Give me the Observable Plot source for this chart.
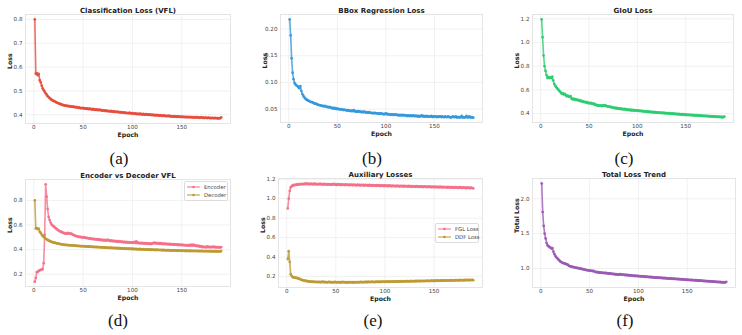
<!DOCTYPE html>
<html>
<head>
<meta charset="utf-8">
<script src="https://cdn.jsdelivr.net/npm/d3@7"></script>
<script src="https://cdn.jsdelivr.net/npm/@observablehq/plot@0.6"></script>
<style>
  html, body { margin: 0; padding: 0; background: #fff; }
  #fig { position: relative; width: 742px; height: 335px; overflow: hidden; font-family: "DejaVu Sans", sans-serif; }
  .panel { position: absolute; }
  .cap { position: absolute; font-family: "Liberation Serif", "DejaVu Serif", serif; font-size: 17px; color: #111; transform: translate(-50%, -50%); white-space: nowrap; line-height: 1; }
  .legend { position: absolute; box-sizing: border-box; border: 0.7px solid #dcdcdc; border-radius: 2px; background: rgba(255,255,255,0.85); font-size: 5.3px; color: #444; padding: 1px 3px 1px 2px; }
  .legend .row { display: flex; align-items: center; height: 8px; white-space: nowrap; }
  .legend svg { width: 13px; height: 6px; margin-right: 4px; flex: none; }
</style>
</head>
<body>
<div id="fig"></div>
<script>
// Training losses per epoch (epochs 1..190)
const epochs = d3.range(1, 191);

const clsLoss = [
  0.800,0.572,0.575,0.566,0.571,0.545,0.536,0.522,0.511,0.503,
  0.497,0.490,0.484,0.478,0.474,0.470,0.466,0.463,0.460,0.458,
  0.456,0.454,0.451,0.450,0.448,0.446,0.445,0.443,0.441,0.440,
  0.439,0.438,0.438,0.436,0.437,0.435,0.436,0.434,0.433,0.435,
  0.432,0.431,0.433,0.430,0.429,0.431,0.428,0.428,0.427,0.429,
  0.426,0.427,0.425,0.427,0.424,0.424,0.426,0.423,0.422,0.424,
  0.421,0.422,0.420,0.422,0.419,0.420,0.421,0.418,0.419,0.417,
  0.418,0.416,0.418,0.415,0.416,0.415,0.414,0.416,0.413,0.414,
  0.412,0.414,0.412,0.411,0.413,0.410,0.411,0.409,0.411,0.409,
  0.408,0.410,0.407,0.408,0.407,0.406,0.409,0.406,0.405,0.407,
  0.405,0.404,0.406,0.403,0.404,0.403,0.402,0.405,0.402,0.401,
  0.403,0.401,0.400,0.402,0.400,0.401,0.399,0.401,0.399,0.398,
  0.400,0.398,0.397,0.399,0.397,0.398,0.396,0.398,0.396,0.395,
  0.397,0.395,0.396,0.394,0.395,0.394,0.396,0.393,0.394,0.393,
  0.392,0.394,0.392,0.393,0.391,0.393,0.392,0.391,0.392,0.390,
  0.392,0.390,0.391,0.389,0.391,0.390,0.389,0.391,0.389,0.390,
  0.388,0.390,0.389,0.388,0.390,0.388,0.389,0.387,0.388,0.389,
  0.387,0.388,0.386,0.388,0.387,0.386,0.388,0.386,0.387,0.385,
  0.387,0.386,0.385,0.387,0.385,0.386,0.384,0.386,0.385,0.389
];

const bboxLoss = [
  0.218,0.188,0.145,0.118,0.106,0.099,0.096,0.094,0.093,0.091,
  0.089,0.093,0.084,0.078,0.075,0.072,0.070,0.068,0.067,0.066,
  0.065,0.064,0.063,0.063,0.062,0.061,0.060,0.060,0.059,0.058,
  0.058,0.057,0.057,0.056,0.056,0.055,0.056,0.055,0.054,0.054,
  0.053,0.054,0.053,0.052,0.052,0.051,0.052,0.051,0.050,0.051,
  0.050,0.050,0.049,0.050,0.049,0.048,0.049,0.048,0.048,0.047,
  0.048,0.047,0.047,0.046,0.047,0.046,0.048,0.046,0.045,0.046,
  0.045,0.046,0.045,0.045,0.044,0.045,0.044,0.045,0.044,0.043,
  0.044,0.043,0.044,0.043,0.043,0.042,0.043,0.042,0.043,0.042,
  0.042,0.041,0.042,0.041,0.042,0.041,0.041,0.040,0.041,0.042,
  0.040,0.041,0.040,0.040,0.039,0.040,0.039,0.040,0.039,0.040,
  0.039,0.039,0.038,0.039,0.038,0.039,0.038,0.039,0.038,0.038,
  0.038,0.037,0.038,0.037,0.038,0.037,0.037,0.038,0.037,0.037,
  0.037,0.037,0.036,0.037,0.036,0.037,0.038,0.036,0.037,0.036,
  0.036,0.037,0.036,0.036,0.036,0.036,0.037,0.035,0.036,0.036,
  0.036,0.035,0.036,0.035,0.036,0.036,0.035,0.036,0.035,0.035,
  0.036,0.035,0.035,0.036,0.035,0.035,0.034,0.035,0.036,0.035,
  0.035,0.036,0.034,0.035,0.035,0.034,0.035,0.037,0.034,0.035,
  0.034,0.035,0.037,0.034,0.035,0.036,0.034,0.035,0.034,0.034
];

const giouLoss = [
  1.195,1.045,0.890,0.800,0.760,0.725,0.700,0.710,0.700,0.705,
  0.700,0.712,0.680,0.650,0.635,0.625,0.614,0.606,0.594,0.586,
  0.575,0.566,0.571,0.560,0.565,0.556,0.546,0.551,0.544,0.541,
  0.546,0.525,0.521,0.526,0.516,0.521,0.514,0.518,0.510,0.513,
  0.505,0.509,0.500,0.503,0.496,0.499,0.492,0.496,0.488,0.491,
  0.486,0.490,0.482,0.485,0.478,0.481,0.471,0.473,0.466,0.469,
  0.465,0.468,0.463,0.466,0.470,0.465,0.468,0.463,0.460,0.458,
  0.457,0.459,0.452,0.455,0.450,0.446,0.449,0.442,0.447,0.441,
  0.444,0.438,0.443,0.436,0.440,0.434,0.439,0.433,0.436,0.430,
  0.434,0.428,0.433,0.426,0.431,0.424,0.429,0.425,0.427,0.423,
  0.426,0.421,0.425,0.419,0.422,0.418,0.421,0.416,0.419,0.414,
  0.418,0.413,0.416,0.411,0.415,0.410,0.413,0.409,0.412,0.407,
  0.410,0.406,0.409,0.404,0.408,0.403,0.407,0.402,0.405,0.401,
  0.404,0.400,0.403,0.398,0.402,0.397,0.401,0.396,0.399,0.394,
  0.398,0.393,0.397,0.392,0.395,0.390,0.394,0.389,0.393,0.388,
  0.391,0.387,0.390,0.386,0.389,0.385,0.388,0.384,0.387,0.383,
  0.386,0.382,0.385,0.381,0.384,0.380,0.383,0.379,0.382,0.378,
  0.381,0.377,0.380,0.376,0.379,0.375,0.378,0.374,0.377,0.373,
  0.376,0.372,0.375,0.371,0.374,0.370,0.373,0.366,0.372,0.374
];

const encoderVfl = [
  0.140,0.170,0.218,0.220,0.228,0.232,0.235,0.238,0.242,0.290,
  0.520,0.930,0.830,0.730,0.665,0.640,0.620,0.605,0.595,0.590,
  0.582,0.575,0.568,0.562,0.556,0.551,0.547,0.543,0.540,0.536,
  0.533,0.530,0.528,0.535,0.530,0.532,0.528,0.530,0.524,0.520,
  0.516,0.512,0.510,0.508,0.504,0.502,0.505,0.500,0.498,0.502,
  0.497,0.499,0.494,0.496,0.492,0.490,0.493,0.488,0.486,0.489,
  0.484,0.486,0.482,0.485,0.480,0.483,0.478,0.481,0.476,0.479,
  0.474,0.478,0.473,0.476,0.480,0.474,0.471,0.475,0.469,0.472,
  0.467,0.471,0.466,0.469,0.464,0.468,0.463,0.466,0.461,0.465,
  0.460,0.463,0.458,0.462,0.457,0.460,0.456,0.459,0.455,0.458,
  0.456,0.462,0.454,0.466,0.452,0.457,0.451,0.455,0.450,0.454,
  0.449,0.453,0.448,0.452,0.447,0.451,0.446,0.450,0.445,0.449,
  0.452,0.456,0.450,0.455,0.449,0.453,0.447,0.452,0.446,0.450,
  0.445,0.449,0.444,0.448,0.443,0.447,0.442,0.446,0.441,0.445,
  0.440,0.444,0.439,0.443,0.438,0.442,0.437,0.441,0.436,0.440,
  0.435,0.439,0.434,0.437,0.433,0.436,0.432,0.438,0.431,0.440,
  0.432,0.440,0.433,0.435,0.429,0.432,0.426,0.430,0.423,0.427,
  0.420,0.424,0.419,0.423,0.418,0.427,0.420,0.423,0.418,0.422,
  0.420,0.425,0.419,0.423,0.418,0.421,0.417,0.420,0.418,0.421
];

// The decoder VFL is the classification loss shown in the first panel
const decoderVfl = clsLoss;

const fglLoss = [
  0.900,1.000,1.080,1.115,1.128,1.135,1.140,1.137,1.145,1.141,
  1.148,1.143,1.150,1.146,1.152,1.147,1.150,1.155,1.148,1.156,
  1.150,1.153,1.147,1.155,1.149,1.152,1.146,1.154,1.148,1.151,
  1.145,1.150,1.147,1.153,1.146,1.149,1.144,1.151,1.146,1.148,
  1.143,1.150,1.145,1.147,1.142,1.149,1.144,1.152,1.143,1.146,
  1.141,1.148,1.143,1.146,1.140,1.147,1.142,1.145,1.139,1.146,
  1.141,1.144,1.138,1.145,1.140,1.143,1.137,1.144,1.139,1.142,
  1.136,1.143,1.138,1.141,1.135,1.142,1.137,1.140,1.134,1.141,
  1.136,1.139,1.133,1.140,1.135,1.138,1.132,1.139,1.134,1.137,
  1.131,1.138,1.133,1.136,1.130,1.137,1.132,1.135,1.129,1.136,
  1.131,1.134,1.128,1.135,1.130,1.133,1.127,1.134,1.129,1.132,
  1.126,1.133,1.128,1.131,1.125,1.132,1.127,1.130,1.124,1.131,
  1.126,1.129,1.123,1.130,1.125,1.128,1.122,1.129,1.124,1.127,
  1.121,1.128,1.123,1.126,1.120,1.127,1.122,1.125,1.119,1.126,
  1.121,1.124,1.118,1.125,1.120,1.123,1.117,1.124,1.119,1.122,
  1.116,1.123,1.118,1.121,1.115,1.122,1.117,1.120,1.114,1.121,
  1.116,1.119,1.113,1.120,1.115,1.118,1.112,1.119,1.114,1.117,
  1.111,1.118,1.113,1.116,1.110,1.117,1.112,1.115,1.109,1.116,
  1.111,1.114,1.108,1.115,1.110,1.113,1.107,1.114,1.109,1.106
];

const ddfLoss = [
  0.380,0.460,0.350,0.225,0.205,0.196,0.192,0.190,0.188,0.186,
  0.183,0.180,0.176,0.171,0.167,0.163,0.160,0.158,0.156,0.155,
  0.153,0.151,0.150,0.148,0.149,0.146,0.147,0.145,0.146,0.144,
  0.145,0.143,0.146,0.142,0.144,0.147,0.143,0.145,0.142,0.144,
  0.141,0.143,0.146,0.142,0.144,0.140,0.143,0.141,0.145,0.142,
  0.140,0.144,0.141,0.143,0.139,0.142,0.145,0.141,0.143,0.140,
  0.142,0.139,0.143,0.141,0.144,0.140,0.142,0.139,0.143,0.141,
  0.144,0.140,0.143,0.141,0.145,0.142,0.144,0.141,0.146,0.143,
  0.145,0.142,0.147,0.143,0.146,0.144,0.148,0.144,0.146,0.143,
  0.147,0.145,0.148,0.144,0.147,0.145,0.149,0.146,0.148,0.145,
  0.149,0.146,0.150,0.147,0.149,0.146,0.151,0.148,0.150,0.147,
  0.151,0.149,0.152,0.148,0.151,0.149,0.153,0.150,0.152,0.149,
  0.153,0.150,0.154,0.151,0.153,0.150,0.155,0.152,0.154,0.151,
  0.155,0.152,0.156,0.153,0.155,0.152,0.157,0.154,0.156,0.153,
  0.157,0.154,0.158,0.155,0.157,0.154,0.159,0.156,0.158,0.155,
  0.159,0.156,0.160,0.157,0.159,0.156,0.161,0.158,0.160,0.157,
  0.161,0.158,0.162,0.159,0.161,0.158,0.163,0.160,0.162,0.159,
  0.163,0.160,0.164,0.161,0.163,0.160,0.165,0.162,0.164,0.161,
  0.165,0.162,0.166,0.163,0.165,0.162,0.167,0.164,0.166,0.163
];

const totalLoss = [
  2.220,1.810,1.610,1.500,1.430,1.365,1.330,1.320,1.305,1.300,
  1.285,1.292,1.240,1.205,1.180,1.160,1.145,1.130,1.115,1.100,
  1.092,1.083,1.078,1.072,1.070,1.062,1.058,1.052,1.036,1.031,
  1.030,1.022,1.024,1.016,1.013,1.012,1.006,1.009,1.001,0.999,
  0.996,0.993,0.990,0.986,0.984,0.979,0.977,0.974,0.972,0.970,
  0.966,0.968,0.962,0.964,0.958,0.948,0.950,0.944,0.946,0.940,
  0.942,0.937,0.939,0.934,0.938,0.932,0.935,0.929,0.931,0.925,
  0.930,0.925,0.922,0.919,0.921,0.915,0.918,0.912,0.915,0.910,
  0.918,0.912,0.915,0.909,0.912,0.906,0.909,0.903,0.906,0.900,
  0.903,0.898,0.901,0.895,0.898,0.892,0.896,0.890,0.893,0.889,
  0.891,0.886,0.889,0.884,0.887,0.881,0.885,0.879,0.882,0.877,
  0.880,0.874,0.878,0.872,0.875,0.870,0.873,0.868,0.871,0.866,
  0.869,0.864,0.867,0.862,0.865,0.860,0.863,0.858,0.861,0.856,
  0.859,0.854,0.857,0.852,0.855,0.850,0.853,0.848,0.851,0.846,
  0.849,0.844,0.847,0.842,0.845,0.840,0.843,0.838,0.841,0.836,
  0.839,0.834,0.837,0.832,0.835,0.830,0.833,0.828,0.831,0.826,
  0.829,0.824,0.827,0.822,0.825,0.820,0.823,0.818,0.821,0.816,
  0.819,0.814,0.817,0.812,0.815,0.810,0.813,0.808,0.811,0.806,
  0.809,0.804,0.807,0.802,0.805,0.800,0.803,0.798,0.801,0.808
];

const xTicks = [0, 50, 100, 150];

const colors = {
  cls: "#e74c3c", bbox: "#3498db", giou: "#2ecc71", total: "#9b59b6",
  pink: "#f4708a", gold: "#bd9a33"
};

// Panel layout: plot frame box [left, top, right, bottom] and caption centre
const panels = [
  { caption: "(a)", capAt: [119, 158], box: [25, 14, 230, 123], title: "Classification Loss (VFL)", ylabel: "Loss",
    yTicks: [0.4, 0.5, 0.6, 0.7, 0.8], fmt: ".1f",
    series: [{ name: "VFL", values: clsLoss, color: colors.cls }] },
  { caption: "(b)", capAt: [372, 158], box: [280, 14, 482, 122], title: "BBox Regression Loss", ylabel: "Loss",
    yTicks: [0.05, 0.10, 0.15, 0.20], fmt: ".2f",
    series: [{ name: "BBox", values: bboxLoss, color: colors.bbox }] },
  { caption: "(c)", capAt: [624, 158], box: [532, 14, 733, 122], title: "GIoU Loss", ylabel: "Loss",
    yTicks: [0.4, 0.6, 0.8, 1.0, 1.2], fmt: ".1f",
    series: [{ name: "GIoU", values: giouLoss, color: colors.giou }] },
  { caption: "(d)", capAt: [118, 320], box: [25, 179, 230, 286], title: "Encoder vs Decoder VFL", ylabel: "Loss",
    yTicks: [0.2, 0.4, 0.6, 0.8], fmt: ".1f",
    series: [{ name: "Encoder", values: encoderVfl, color: colors.pink },
             { name: "Decoder", values: decoderVfl, color: colors.gold }],
    legend: { left: 184, top: 181, width: 44 } },
  { caption: "(e)", capAt: [373, 320], box: [278, 178, 482, 287], title: "Auxiliary Losses", ylabel: "Loss",
    yTicks: [0.2, 0.4, 0.6, 0.8, 1.0, 1.2], fmt: ".1f",
    series: [{ name: "FGL Loss", values: fglLoss, color: colors.pink },
             { name: "DDF Loss", values: ddfLoss, color: colors.gold }],
    legend: { left: 435, top: 223, width: 44 } },
  { caption: "(f)", capAt: [625, 320], box: [532, 178, 735, 287], title: "Total Loss Trend", ylabel: "Total Loss",
    yTicks: [1.0, 1.5, 2.0], fmt: ".1f",
    series: [{ name: "Total", values: totalLoss, color: colors.total }] }
];

const fig = document.getElementById("fig");
const mL = 26, mR = 4, mT = 14, mB = 22;

for (const p of panels) {
  const [l, t, r, b] = p.box;
  const rows = p.series.flatMap(s => epochs.map((e, i) => ({ epoch: e, loss: s.values[i], name: s.name })));
  const [lo, hi] = d3.extent(rows, d => d.loss);
  const pad = (hi - lo) * 0.05;

  const chart = Plot.plot({
    width: r - l + mL + mR,
    height: b - t + mT + mB,
    marginLeft: mL, marginRight: mR, marginTop: mT, marginBottom: mB,
    style: { background: "transparent", overflow: "visible", fontFamily: "DejaVu Sans, sans-serif", color: "#444" },
    x: { domain: [1 - 189 * 0.05, 190 + 189 * 0.05] },
    y: { domain: [lo - pad, hi + pad] },
    marks: [
      Plot.gridX({ ticks: xTicks, stroke: "#ebebeb", strokeOpacity: 1, strokeWidth: 0.7 }),
      Plot.gridY({ ticks: p.yTicks, stroke: "#ebebeb", strokeOpacity: 1, strokeWidth: 0.7 }),
      Plot.frame({ stroke: "#dedede", strokeWidth: 0.8 }),
      Plot.axisX({ ticks: xTicks, tickSize: 0, tickPadding: 1.5, fontSize: 5.6, label: null }),
      Plot.axisY({ ticks: p.yTicks, tickSize: 0, tickPadding: 3, tickFormat: d3.format(p.fmt), fontSize: 5.6, label: null }),
      ...p.series.flatMap(s => {
        const d = rows.filter(r => r.name === s.name);
        return [
          Plot.line(d, { x: "epoch", y: "loss", stroke: s.color, strokeWidth: 1.6, strokeOpacity: 0.8 }),
          Plot.dot(d, { x: "epoch", y: "loss", r: 1.4, fill: s.color, fillOpacity: 0.9, stroke: "none" })
        ];
      }),
      Plot.text([p.title], { text: d => d, frameAnchor: "top", lineAnchor: "bottom", dy: -1.5, fontWeight: "bold", fontSize: 7, fill: "#222" }),
      Plot.text(["Epoch"], { text: d => d, frameAnchor: "bottom", lineAnchor: "top", dy: 8.6, fontWeight: "bold", fontSize: 6.2, fill: "#222" }),
      Plot.text([p.ylabel], { text: d => d, frameAnchor: "left", dx: -15.5, rotate: -90, fontWeight: "bold", fontSize: 6.2, fill: "#222" })
    ]
  });
  chart.classList.add("panel");
  chart.style.left = (l - mL) + "px";
  chart.style.top = (t - mT) + "px";
  fig.appendChild(chart);

  if (p.legend) {
    const lg = document.createElement("div");
    lg.className = "legend";
    lg.style.left = p.legend.left + "px";
    lg.style.top = p.legend.top + "px";
    lg.style.width = p.legend.width + "px";
    for (const s of p.series) {
      const row = document.createElement("div");
      row.className = "row";
      row.innerHTML = `<svg viewBox="0 0 13 6"><line x1="0" x2="13" y1="3" y2="3" stroke="${s.color}" stroke-width="1.2" stroke-opacity="0.85"/><circle cx="6.5" cy="3" r="1.3" fill="${s.color}"/></svg><span>${s.name}</span>`;
      lg.appendChild(row);
    }
    fig.appendChild(lg);
  }

  const cap = document.createElement("div");
  cap.className = "cap";
  cap.textContent = p.caption;
  cap.style.left = p.capAt[0] + "px";
  cap.style.top = p.capAt[1] + "px";
  fig.appendChild(cap);
}
</script>
</body>
</html>
